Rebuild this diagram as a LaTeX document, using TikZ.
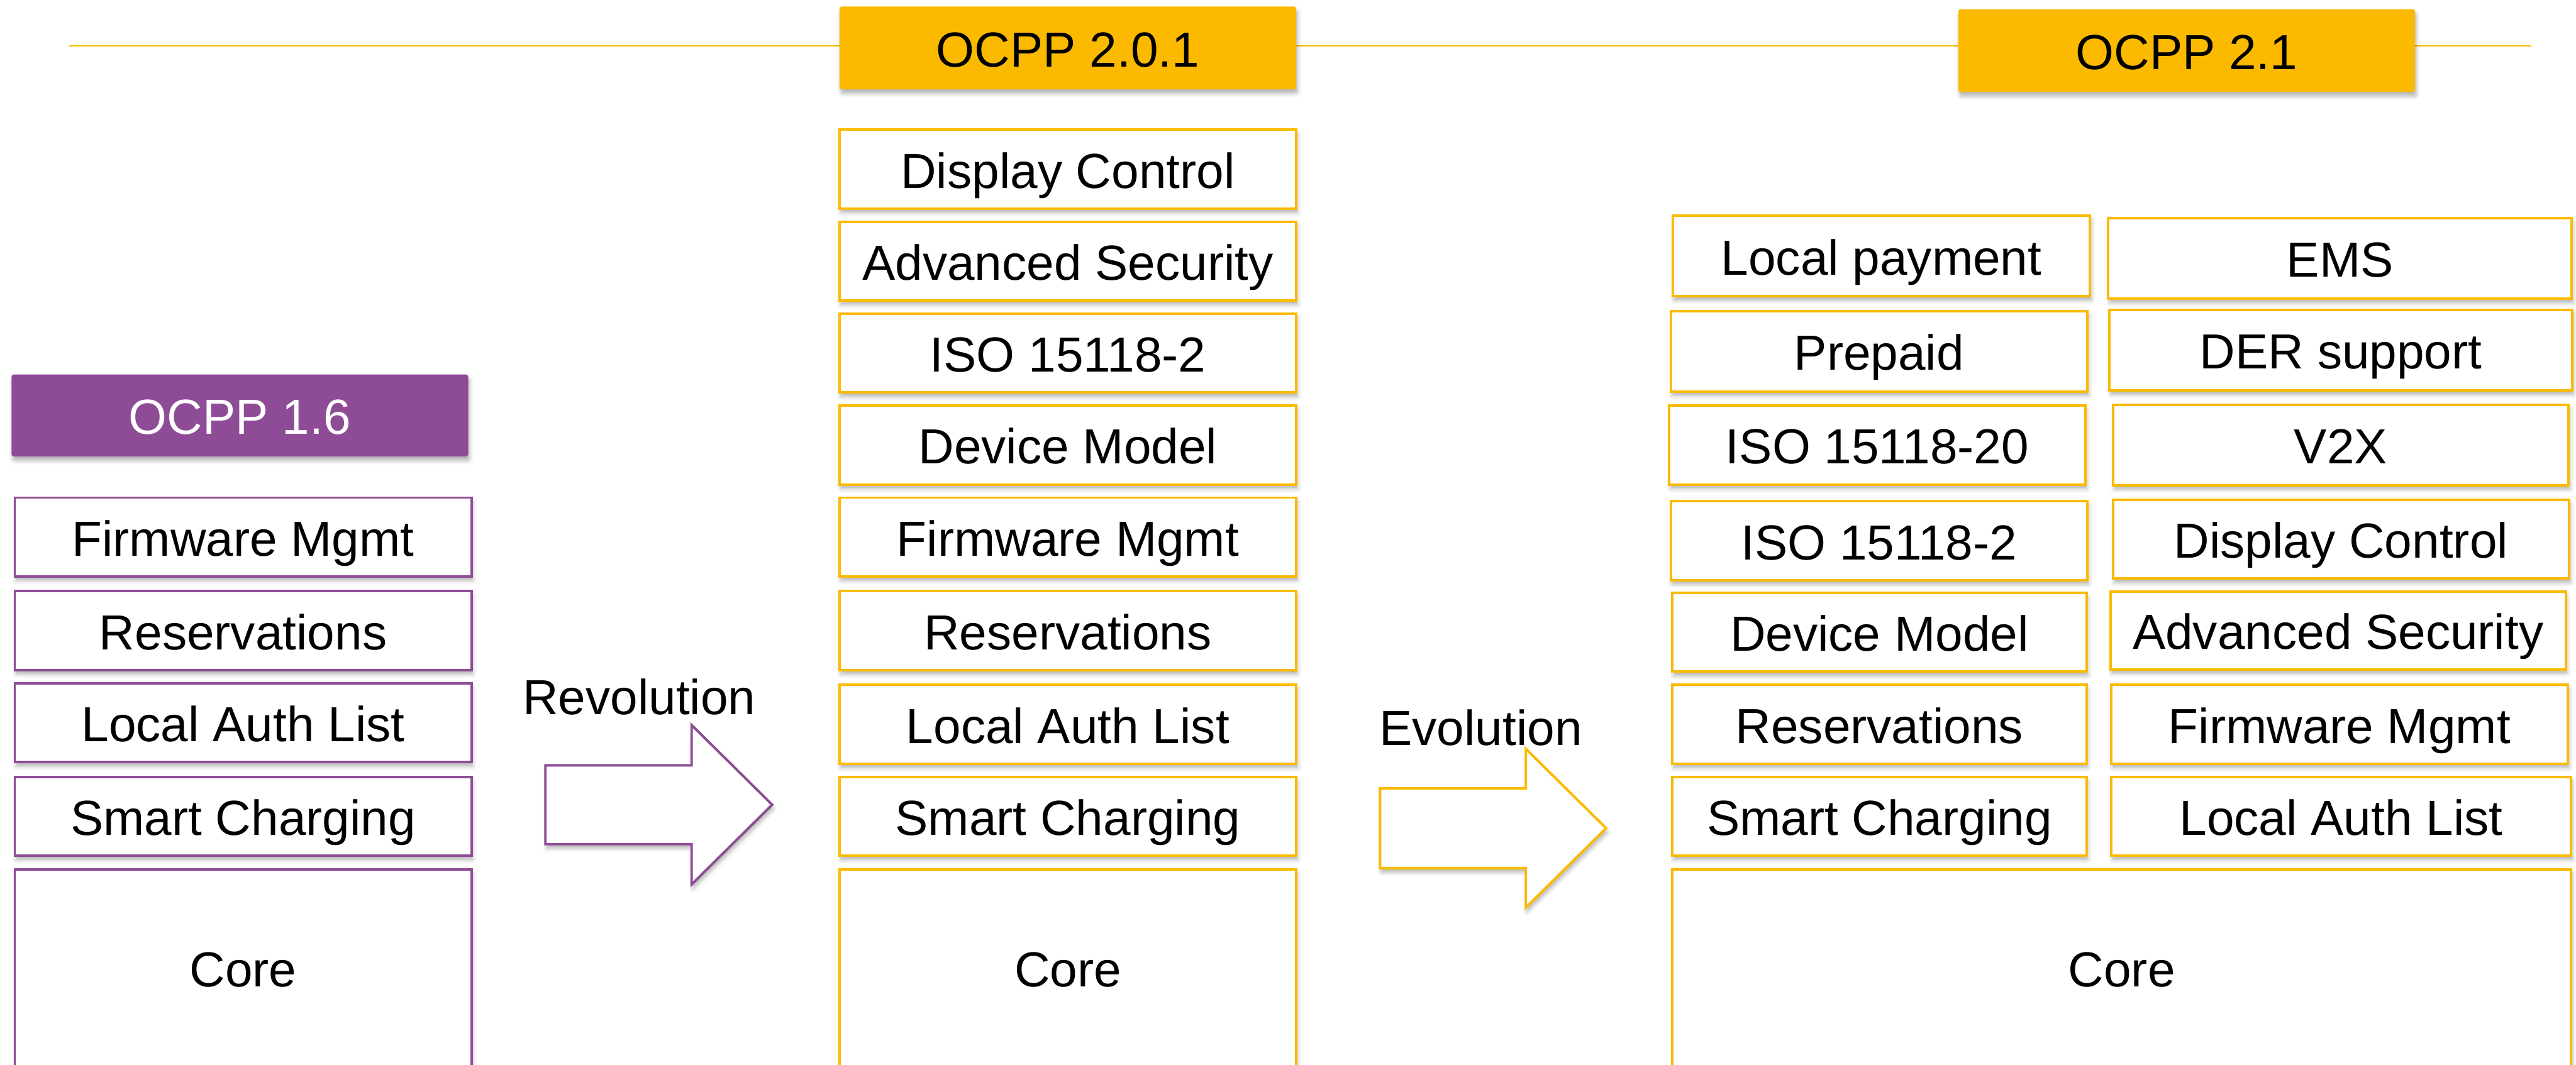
\documentclass[tikz,border=0pt]{standalone}
\usepackage{fontspec}
\setmainfont{Liberation Sans}
\usetikzlibrary{shadows.blur}

\definecolor{ocppyellow}{RGB}{251,186,0}
\definecolor{ocpppurple}{RGB}{142,76,150}

\tikzset{
  softshadow/.style={blur shadow={shadow xshift=0.8pt, shadow yshift=-2.5pt,
      shadow blur radius=2.5pt, shadow opacity=30}},
  label text/.style={font=\fontsize{30}{36}\selectfont, inner sep=0pt},
  size/.style 2 args={minimum width=#1pt, minimum height=#2pt},
  box/.style={label text, rectangle, line width=1.5pt, fill=white,
      text height=27pt, text depth=4pt, softshadow},
  oldbox/.style={box, draw=ocpppurple},
  newbox/.style={box, draw=ocppyellow},
  header/.style={label text, rectangle, rounded corners=1.5pt,
      text height=27pt, text depth=4pt, softshadow},
  oldheader/.style={header, fill=ocpppurple, text=white},
  newheader/.style={header, fill=ocppyellow, text=black},
  blockarrow/.style={line width=1.5pt, fill=white, line join=miter, softshadow},
  timeline/.style={draw=ocppyellow, line width=1pt},
}

\begin{document}
\begin{tikzpicture}[x=1pt, y=-1pt]
\useasboundingbox (0,0) rectangle (1568,648.3);
\clip (0,0) rectangle (1568,648.3);

% time line behind the version headers
\coordinate (tl-start) at (42,28);
\coordinate (tl-end) at (1540.7,28);
\draw[timeline] (tl-start) -- (tl-end);

% ---- OCPP 1.6 ----
\node[oldheader, size={278}{50}] (h16) at (146,253) {OCPP 1.6};
\node[oldbox, size={278}{48}] (a-fw)   at (148,327) {Firmware Mgmt};
\node[oldbox, size={278}{48}] (a-res)  at (148,384) {Reservations};
\node[oldbox, size={278}{48}] (a-auth) at (148,440) {Local Auth List};
\node[oldbox, size={278}{48}] (a-sc)   at (148,497) {Smart Charging};
\node[oldbox, size={278}{120}] (a-core) at (148,589.5) {Core};

% ---- OCPP 2.0.1 ----
\node[newheader, size={278}{50.5}] (h201) at (650,29.2) {OCPP 2.0.1};
\node[newbox, size={278}{48}] (b-disp) at (650,103) {Display Control};
\node[newbox, size={278}{48}] (b-sec)  at (650,159) {Advanced Security};
\node[newbox, size={278}{48}] (b-iso)  at (650,215) {ISO 15118-2};
\node[newbox, size={278}{48}] (b-dm)   at (650,271) {Device Model};
\node[newbox, size={278}{48}] (b-fw)   at (650,327) {Firmware Mgmt};
\node[newbox, size={278}{48}] (b-res)  at (650,384) {Reservations};
\node[newbox, size={278}{48}] (b-auth) at (650,441) {Local Auth List};
\node[newbox, size={278}{48}] (b-sc)   at (650,497) {Smart Charging};
\node[newbox, size={278}{120}] (b-core) at (650,589.5) {Core};

% ---- OCPP 2.1 ----
\node[newheader, size={278}{50.5}] (h21) at (1331,30.8) {OCPP 2.1};
\node[newbox, size={254}{49}]   (c-pay)   at (1145.2,155.9) {Local payment};
\node[newbox, size={253.5}{49}] (c-pre)   at (1143.8,213.9) {Prepaid};
\node[newbox, size={253.3}{48}] (c-iso20) at (1142.7,271) {ISO 15118-20};
\node[newbox, size={253.5}{48}] (c-iso2)  at (1143.8,329.2) {ISO 15118-2};
\node[newbox, size={252}{48}]   (c-dm)    at (1144,385) {Device Model};
\node[newbox, size={252}{48}]   (c-res)   at (1144,441) {Reservations};
\node[newbox, size={252}{48}]   (c-sc)    at (1144,497) {Smart Charging};
\node[newbox, size={282}{49}]   (c-ems)   at (1424.3,157.3) {EMS};
\node[newbox, size={281.8}{49}] (c-der)   at (1424.9,213.2) {DER support};
\node[newbox, size={277.2}{49}] (c-v2x)   at (1424.8,270.9) {V2X};
\node[newbox, size={277.5}{48}] (c-disp)  at (1425,328.3) {Display Control};
\node[newbox, size={277}{47.3}] (c-sec)   at (1423.2,383.9) {Advanced Security};
\node[newbox, size={278}{48}]   (c-fw)    at (1424,441) {Firmware Mgmt};
\node[newbox, size={280}{48}]   (c-auth)  at (1425,497) {Local Auth List};
\node[newbox, size={547}{120}]  (c-core)  at (1291.5,589.5) {Core};

% ---- transitions ----
\node[label text, anchor=base west] (revo) at (318,435) {Revolution};
\draw[blockarrow, draw=ocpppurple]
  (332,466) -- (421,466) -- (421,441.5) -- (470,490) -- (421,538.5)
  -- (421,514) -- (332,514) -- cycle;

\node[label text, anchor=base west] (evo) at (839.5,453.7) {Evolution};
\draw[blockarrow, draw=ocppyellow]
  (840,480) -- (928.8,480) -- (928.8,456) -- (977.6,504.3) -- (928.8,552.6)
  -- (928.8,528.6) -- (840,528.6) -- cycle;
\end{tikzpicture}
\end{document}
